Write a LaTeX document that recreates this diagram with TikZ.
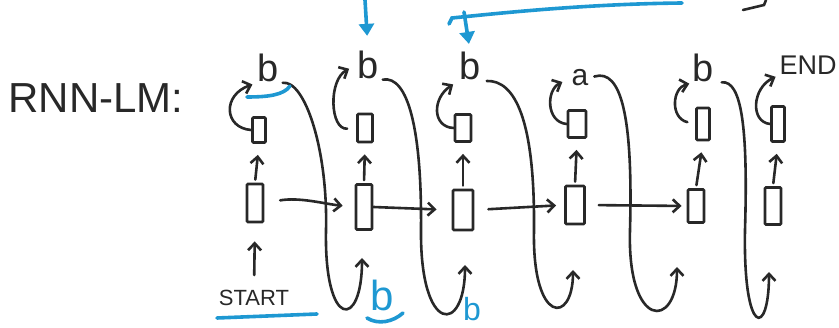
\documentclass[tikz,border=0pt]{standalone}
\usepackage{fontspec}
\setmainfont{Liberation Sans}
\usepackage{tikz}
\usetikzlibrary{arrows.meta}
\definecolor{penblack}{RGB}{40,40,40}
\definecolor{penblue}{RGB}{30,152,210}

\begin{document}
\begin{tikzpicture}[x=1pt,y=-1pt,
	cell/.style={draw=penblack, line width=2.8pt, rounded corners=1pt, inner sep=0pt, minimum width=14pt, minimum height=28pt},
	word/.style={inner sep=1pt, text=penblack, font=\fontsize{38}{38}\selectfont},
	pen/.style={draw=penblack, line width=2.6pt, line cap=round, -{Straight Barb[length=7pt,width=13pt]}},
	bluepen/.style={draw=penblue, line width=3.6pt, line cap=round},
	]
	\useasboundingbox (0,0) rectangle (839,328);
	%Nodes
	\node[word, font=\fontsize{42}{42}\selectfont]	(title)	at (96,98)	{RNN-LM:};
	\node[word, font=\fontsize{22}{22}\selectfont]	(start)	at (254,298)	{START};
	
	\node[cell, minimum width=13pt, minimum height=25pt]	(t1)	at (259,130)	{};
	\node[cell, minimum width=16pt, minimum height=38pt]	(s1)	at (255,203)	{};
	\node[cell, minimum width=15pt, minimum height=28pt]	(t2)	at (365,128)	{};
	\node[cell, minimum width=16pt, minimum height=45pt]	(s2)	at (364,207)	{};
	\node[cell, minimum width=16pt, minimum height=27pt]	(t3)	at (463,128)	{};
	\node[cell, minimum width=20pt, minimum height=40pt]	(s3)	at (463,210)	{};
	\node[cell, minimum width=18pt, minimum height=27pt]	(t4)	at (577,124)	{};
	\node[cell, minimum width=19pt, minimum height=38pt]	(s4)	at (575,205)	{};
	\node[cell, minimum width=13pt, minimum height=32pt]	(t5)	at (703,124)	{};
	\node[cell, minimum width=16pt, minimum height=33pt]	(s5)	at (696,206)	{};
	\node[cell, minimum width=13pt, minimum height=35pt]	(t6)	at (778,124)	{};
	\node[cell, minimum width=16pt, minimum height=37pt]	(s6)	at (773,206)	{};
	
	\node[word]	(o1)	at (268,68)	{b};
	\node[word]	(o2)	at (368,65)	{b};
	\node[word]	(o3)	at (470,66)	{b};
	\node[word, font=\fontsize{30}{30}\selectfont]	(o4)	at (580,78)	{a};
	\node[word]	(o5)	at (703,68)	{b};
	\node[word, font=\fontsize{27}{27}\selectfont]	(o6)	at (808,65)	{END};
	
	\node[word, text=penblue, font=\fontsize{42}{42}\selectfont]	(w2)	at (382,295)	{b};
	\node[word, text=penblue, font=\fontsize{32}{32}\selectfont]	(w3)	at (472,309)	{b};
	
	\coordinate	(in2)	at (362,258);
	\coordinate	(in3)	at (465,265);
	\coordinate	(in4)	at (573,270);
	\coordinate	(in5)	at (677,267);
	\coordinate	(in6)	at (769,272);
	\coordinate	(q2)	at (365,0);
	\coordinate	(q3)	at (682,3);
	\coordinate	(q4)	at (464,12);
	
	%input, state and output arrows
	\draw[pen, shorten <=14pt, shorten >=18pt] (start.north) -- (s1.south);
	\foreach \i in {1,...,6}
		\draw[pen, shorten <=3pt, shorten >=11pt] (s\i.north) -- (t\i.south);
	\draw[pen, shorten <=16pt, shorten >=12pt] (s1.east) .. controls (300,197) and (325,204) .. (s2.west);
	\draw[pen, shorten >=15pt] (s2.east) -- (s3.west);
	\draw[pen, shorten <=14pt, shorten >=8pt] (s3.east) -- (s4.west);
	\draw[pen, shorten <=13pt, shorten >=5pt] (s4.east) -- (s5.west);
	
	%self loops up to the sampled word
	\draw[pen, shorten >=4pt] (t1.west) .. controls (224,128) and (222,95) .. (o1.south west);
	\draw[pen, shorten <=9pt, shorten >=8pt] (t2.west) .. controls (330,130) and (328,80) .. (o2.west);
	\draw[pen, shorten >=6pt] (t3.west) .. controls (432,127) and (432,98) .. (o3.south west);
	\draw[pen, shorten >=9pt] (t4.west) .. controls (546,122) and (546,90) .. (o4.west);
	\draw[pen, shorten <=8pt, shorten >=2pt] (t5.west) .. controls (670,118) and (672,88) .. (o5.south west);
	\draw[pen, shorten >=3pt] (t6.west) .. controls (750,122) and (752,88) .. (o6.south west);
	
	%sampled word fed back in
	\draw[pen, shorten <=3pt] (o1.south east) .. controls (305,80) and (328,150) .. (326,230) .. controls (324,330) and (362,330) .. (in2);
	\draw[pen, shorten <=3pt] (o2.south east) .. controls (408,75) and (422,130) .. (421,230) .. controls (420,335) and (465,335) .. (in3);
	\draw[pen, shorten <=5pt] (o3.south east) .. controls (515,80) and (535,120) .. (534,230) .. controls (532,325) and (573,325) .. (in4);
	\draw[pen, shorten <=5pt] (o4.east) .. controls (622,68) and (633,120) .. (630,230) .. controls (627,330) and (677,330) .. (in5);
	\draw[pen, shorten <=7pt] (o5.south east) .. controls (742,80) and (748,130) .. (745,230) .. controls (743,338) and (769,338) .. (in6);
	
	%blue marks
	\draw[bluepen] (217,318) -- (317,314);
	\draw[bluepen] (247,97) .. controls (268,97) and (284,95) .. (290,86);
	\draw[bluepen] (367,318) .. controls (378,325) and (393,322) .. (403,313);
	\draw[bluepen, -{Triangle[length=12pt,width=15pt]}, shorten >=14pt] (q2) -- (o2.north);
	\draw[bluepen] (q3) .. controls (590,4) and (510,12) .. (452,18) -- (449,24);
	\draw[bluepen, -{Triangle[length=12pt,width=15pt]}, shorten >=7pt] (q4) -- (o3.north);
	\draw[draw=penblack, line width=2.6pt, line cap=round] (743,10) -- (764,5) -- (766,0);
\end{tikzpicture}
\end{document}
